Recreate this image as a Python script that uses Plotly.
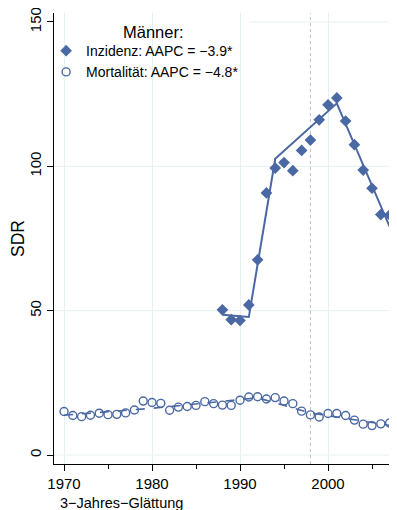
import plotly.graph_objects as go

# Incidence (diamonds)
inc_years = list(range(1988, 2008))
inc_values = [50.3, 46.9, 46.6, 52.0, 67.6, 90.8, 99.4, 101.3, 98.5, 105.5,
              109.1, 116.1, 121.3, 123.7, 115.7, 107.5, 98.7, 92.4, 83.3, 83.1]
# Incidence joinpoint fit (values read at joinpoints)
inc_fit_years = [1988, 1991, 1994, 2001, 2007]
inc_fit_values = [48.6, 47.8, 102.6, 121.8, 79.1]

# Mortality (open circles)
mort_years = list(range(1970, 2008))
mort_values = [15.1, 13.7, 13.3, 13.8, 14.5, 14.0, 14.1, 14.6, 15.6, 18.7,
               18.2, 17.9, 15.5, 16.6, 16.8, 17.2, 18.5, 17.8, 17.3, 17.2,
               19.0, 20.1, 20.2, 19.4, 19.9, 18.7, 17.8, 15.2, 13.9, 13.2,
               14.4, 14.4, 13.7, 12.1, 10.7, 10.2, 10.8, 11.1]
# Mortality fit
mort_fit_years = [1970, 1980, 1992, 1998, 2007]
mort_fit_values = [13.8, 16.2, 19.8, 14.6, 10.3]

x_ticks = [1970, 1980, 1990, 2000]
x_minor = [1975, 1985, 1995, 2005]
y_ticks = [0, 50, 100, 150]

COL = "#4a68a3"
GRID = "#e6eff1"

fig = go.Figure()
fig.add_trace(go.Scatter(x=inc_fit_years, y=inc_fit_values, mode="lines",
                         line=dict(color=COL, width=2), showlegend=False, hoverinfo="skip"))
fig.add_trace(go.Scatter(x=mort_fit_years, y=mort_fit_values, mode="lines",
                         line=dict(color=COL, width=1.6, dash="dash"), showlegend=False, hoverinfo="skip"))
fig.add_trace(go.Scatter(x=inc_years, y=inc_values, mode="markers",
                         marker=dict(symbol="diamond", size=9, color=COL, line=dict(width=0)),
                         name="Inzidenz: AAPC = \u22123.9*"))
fig.add_trace(go.Scatter(x=mort_years, y=mort_values, mode="markers",
                         marker=dict(symbol="circle-open", size=8, color=COL, line=dict(width=1.4)),
                         name="Mortalit\u00e4t: AAPC = \u22124.8*"))

shapes = []
for v in [0, 50, 100]:
    shapes.append(dict(type="line", xref="paper", x0=0, x1=1, yref="y", y0=v, y1=v,
                       line=dict(color=GRID, width=1), layer="below"))
shapes.append(dict(type="line", xref="x", x0=1991.1, x1=2010, yref="y", y0=150, y1=150,
                   line=dict(color=GRID, width=1), layer="below"))
shapes.append(dict(type="line", xref="x", x0=1998, x1=1998, yref="paper", y0=0, y1=1,
                   line=dict(color="#b4bcd4", width=1, dash="dot"), layer="below"))

fig.update_layout(
    width=389, height=502,
    margin=dict(l=46, r=0, t=5, b=46),
    paper_bgcolor="white", plot_bgcolor="white",
    font=dict(family="Liberation Sans, Arial, sans-serif", size=15, color="black"),
    shapes=shapes,
    xaxis=dict(range=[1968.86, 2007.84], tickvals=x_ticks, ticks="outside", ticklen=6,
               tickcolor="black", showline=True, linecolor="black", linewidth=1,
               showgrid=True, gridcolor=GRID, zeroline=False,
               minor=dict(tickvals=x_minor, ticks="outside", ticklen=4,
                          tickcolor="black", showgrid=False),
               tickfont=dict(size=15)),
    yaxis=dict(range=[-3.1, 153.1], tickvals=y_ticks, ticks="outside", ticklen=6,
               tickcolor="black", showline=True, linecolor="black", linewidth=1,
               showgrid=False, zeroline=False, tickangle=-90,
               ticklabeloverflow="allow",
               tickfont=dict(size=15),
               title=dict(text="SDR", font=dict(size=17.5), standoff=5)),
    legend=dict(x=-0.023, y=0.951, xanchor="left", yanchor="top",
                bgcolor="rgba(0,0,0,0)", font=dict(size=14), itemwidth=30,
                tracegroupgap=0),
    annotations=[
        dict(text="M\u00e4nner:", xref="paper", yref="paper", x=0.2915, y=0.958,
             xanchor="center", yanchor="middle", showarrow=False, font=dict(size=16.5)),
        dict(text="3\u2212Jahres\u2212Gl\u00e4ttung", xref="paper", yref="paper",
             x=0.012, y=-0.087, xanchor="left", yanchor="middle", showarrow=False,
             font=dict(size=14.5)),
    ],
)

fig.write_html("out.html")
